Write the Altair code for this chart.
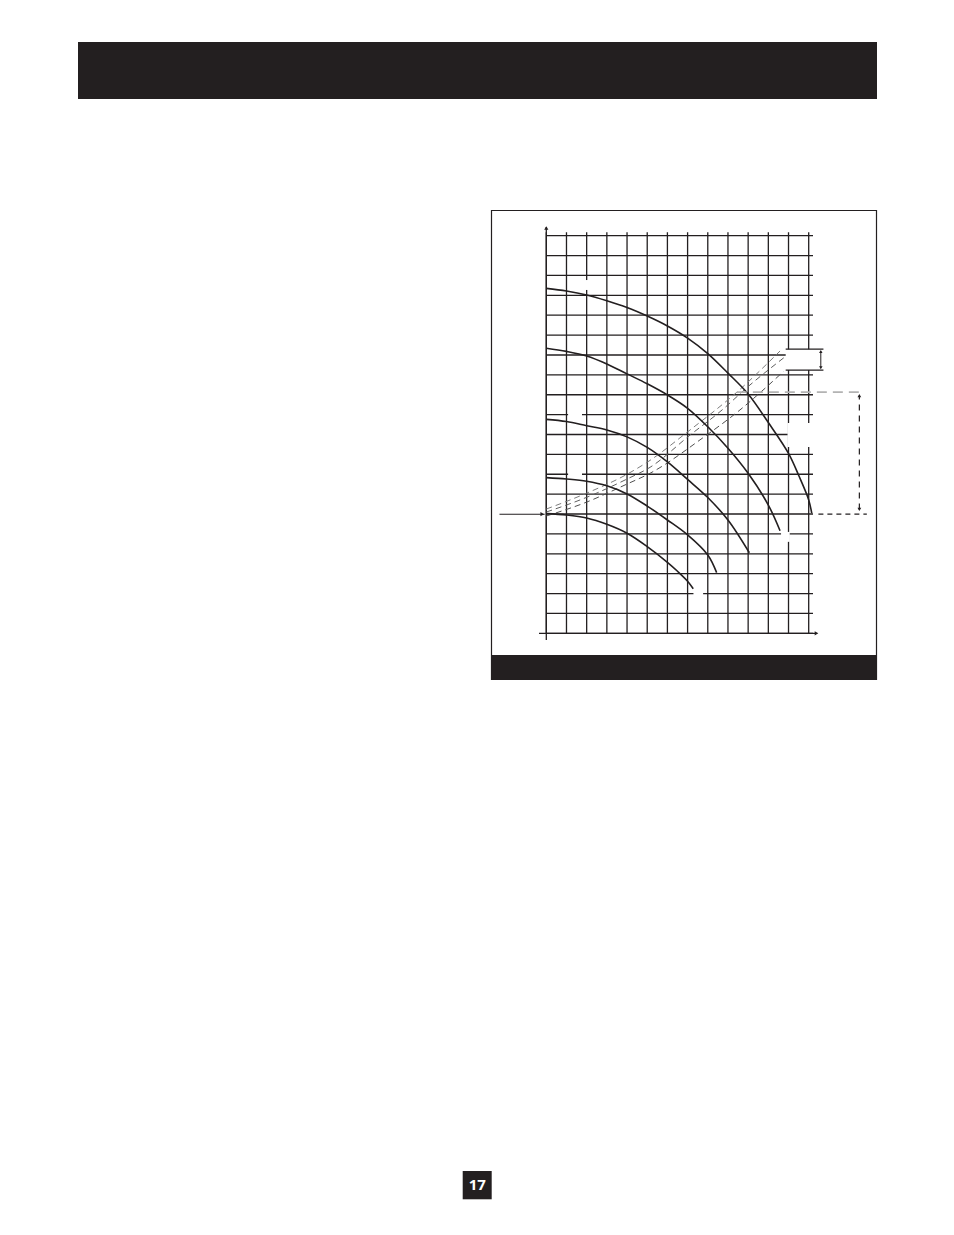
import altair as alt
import pandas as pd

INK = "#231f20"

# ---------------- data ----------------
flow_ticks = list(range(0, 14))      # vertical grid lines
head_ticks = list(range(0, 21))      # horizontal grid lines

pump_flow_1 = [0, 1, 2, 3, 4, 5, 6, 7, 8, 9, 10, 11, 12, 12.5, 13.0, 13.15]
pump_head_1 = [17.35, 17.22, 17.02, 16.73, 16.39, 15.96, 15.46, 14.85, 14.07, 13.09, 12.04, 10.6, 9.05, 7.95, 6.71, 6.04]

pump_flow_2 = [0, 1, 2, 3, 4, 5, 6, 7, 8, 9, 10, 11, 11.58]
pump_head_2 = [14.34, 14.18, 13.95, 13.55, 13.05, 12.55, 11.99, 11.32, 10.39, 9.31, 8.05, 6.45, 5.16]

pump_flow_3 = [0, 1, 2, 3, 4, 5, 6, 7, 8, 9, 10.06]
pump_head_3 = [10.76, 10.65, 10.44, 10.23, 9.88, 9.35, 8.62, 7.74, 6.83, 5.70, 4.05]

pump_flow_4 = [0, 1, 2, 3, 4, 5, 6, 7, 8, 8.44]
pump_head_4 = [7.83, 7.76, 7.65, 7.42, 7.01, 6.40, 5.70, 4.95, 3.94, 3.05]

pump_flow_5 = [0, 1, 2, 3, 4, 5, 6, 6.5, 7, 7.28]
pump_head_5 = [6.02, 5.95, 5.80, 5.48, 5.03, 4.36, 3.57, 3.12, 2.62, 2.24]

sys_flow_a = [0, 2, 4, 5.14, 6.96, 9.43, 11.58]
sys_head_a = [6.25, 7.05, 8.0, 8.7, 10.1, 12.12, 14.2]
sys_flow_b = [0, 2, 3.98, 5.14, 7.12, 8.61, 10.09, 11.83]
sys_head_b = [6.10, 6.84, 7.75, 8.35, 9.97, 11.15, 12.49, 13.91]
sys_flow_c = [0, 2, 3.98, 5.14, 7.78, 9.43, 11.74]
sys_head_c = [5.90, 6.60, 7.50, 8.05, 9.85, 11.10, 13.16]

static_head = 5.99          # level marked by the left arrow / black dashes
duty_head = 12.13           # grey dashed level
duty_flow_range = [9.44, 15.68]
static_flow_range = [13.48, 15.88]
dim_flow = 15.51
dim_heads = [6.13, 12.06]
tol_heads = [13.24, 14.29]
tol_flow_range = [11.86, 13.73]
tol_flow = 13.6
left_arrow_range = [-2.32, -0.08]

# places where the grid is broken (spots of removed labels)
gap_x1 = [1.82, 1.08, 1.08, 11.63, 7.29, 11.95, 11.86]
gap_x2 = [2.17, 1.77, 1.77, 12.06, 7.77, 13.35, 13.35]
gap_y1 = [17.27, 10.88, 7.87, 4.60, 1.88, 9.37, 13.24]
gap_y2 = [17.77, 11.16, 8.13, 5.10, 2.14, 10.58, 14.29]

# ---------------- layout ----------------
X0, Y0 = 546.3, 235.7          # page position of the plot area's top-left
W, H = 262.4, 397.6            # 13 x 20 grid cells


def px(v):
    return alt.value(v - X0)


def py(v):
    return alt.value(v - Y0)


one = pd.DataFrame({"k": [0]})
xs = alt.Scale(domain=[0, 13], nice=False, zero=False)
ys = alt.Scale(domain=[0, 20], nice=False, zero=False)


def page_rect(x1, x2, y1, y2, **kw):
    return alt.Chart(one).mark_rect(**kw).encode(x=px(x1), x2=px(x2), y=py(y1), y2=py(y2))


header = page_rect(78, 877, 42, 99, color=INK)
frame = page_rect(491.5, 876.5, 210.5, 679.5, fill="white", stroke=INK, strokeWidth=1.2)
footer = page_rect(491, 877, 655, 680, color=INK)
pagebox = page_rect(462.7, 491.7, 1171, 1199.3, color=INK)
pagenum = alt.Chart(one).mark_text(
    text="17", color="white", font="Open Sans", fontWeight="bold", fontSize=15,
    align="center", baseline="alphabetic"
).encode(x=px(477.3), y=py(1189.5))

grid_v = alt.Chart(pd.DataFrame({"flow": flow_ticks})).mark_rule(
    color=INK, strokeWidth=1.3
).encode(x=alt.X("flow:Q", scale=xs, axis=None), y=py(232.3), y2=py(633.3))

grid_h = alt.Chart(pd.DataFrame({"head": head_ticks})).mark_rule(
    color=INK, strokeWidth=1.3
).encode(y=alt.Y("head:Q", scale=ys, axis=None), x=px(546.3), x2=px(813))

gaps = alt.Chart(pd.DataFrame({"x1": gap_x1, "x2": gap_x2, "y1": gap_y1, "y2": gap_y2})).mark_rect(
    color="white"
).encode(
    x=alt.X("x1:Q", scale=xs, axis=None), x2="x2:Q",
    y=alt.Y("y1:Q", scale=ys, axis=None), y2="y2:Q",
)

y_axis = alt.Chart(one).mark_rule(color=INK, strokeWidth=1.3).encode(
    x=px(546.3), y=py(227), y2=py(640))
x_axis = alt.Chart(one).mark_rule(color=INK, strokeWidth=1.3).encode(
    y=py(633.3), x=px(539), x2=px(816))
y_head = alt.Chart(one).mark_point(shape="triangle-up", filled=True, color=INK, size=18, opacity=1).encode(
    x=px(546.3), y=py(228))
x_head = alt.Chart(one).mark_point(shape="triangle-right", filled=True, color=INK, size=18, opacity=1).encode(
    x=px(816.5), y=py(633.3))

# pump curves
rows = []
for cid, (fl, hd) in enumerate([(pump_flow_1, pump_head_1), (pump_flow_2, pump_head_2),
                                (pump_flow_3, pump_head_3), (pump_flow_4, pump_head_4),
                                (pump_flow_5, pump_head_5)]):
    for i, (f, h) in enumerate(zip(fl, hd)):
        rows.append({"curve": f"p{cid}", "i": i, "flow": f, "head": h})
pumps = alt.Chart(pd.DataFrame(rows)).mark_line(
    color=INK, strokeWidth=1.6, interpolate="catmull-rom"
).encode(
    x=alt.X("flow:Q", scale=xs, axis=None),
    y=alt.Y("head:Q", scale=ys, axis=None),
    detail="curve:N", order="i:Q",
)


def sys_line(fl, hd, colour):
    df = pd.DataFrame({"flow": fl, "head": hd, "i": list(range(len(fl)))})
    return alt.Chart(df).mark_line(
        color=colour, strokeWidth=1.0, strokeDash=[6, 4], interpolate="monotone"
    ).encode(
        x=alt.X("flow:Q", scale=xs, axis=None),
        y=alt.Y("head:Q", scale=ys, axis=None),
        order="i:Q",
    )


sys_a = sys_line(sys_flow_a, sys_head_a, "#7c7c7c")
sys_b = sys_line(sys_flow_b, sys_head_b, "#5f5f5f")
sys_c = sys_line(sys_flow_c, sys_head_c, "#4f4f4f")


def hrule(x1, x2, y, **kw):
    df = pd.DataFrame({"x1": [x1], "x2": [x2], "y": [y]})
    return alt.Chart(df).mark_rule(**kw).encode(
        x=alt.X("x1:Q", scale=xs, axis=None), x2="x2:Q",
        y=alt.Y("y:Q", scale=ys, axis=None))


def vrule(x, y1, y2, **kw):
    df = pd.DataFrame({"x": [x], "y1": [y1], "y2": [y2]})
    return alt.Chart(df).mark_rule(**kw).encode(
        x=alt.X("x:Q", scale=xs, axis=None),
        y=alt.Y("y1:Q", scale=ys, axis=None), y2="y2:Q")


def head_pt(x, y, shape, size=16):
    df = pd.DataFrame({"x": [x], "y": [y]})
    return alt.Chart(df).mark_point(shape=shape, filled=True, color=INK, size=size, opacity=1).encode(
        x=alt.X("x:Q", scale=xs, axis=None), y=alt.Y("y:Q", scale=ys, axis=None))


duty_line = hrule(duty_flow_range[0], duty_flow_range[1], duty_head,
                  color="#b3b3b3", strokeWidth=1.7, strokeDash=[10, 6])
static_line = hrule(static_flow_range[0], static_flow_range[1], static_head,
                    color=INK, strokeWidth=1.2, strokeDash=[5, 4])
left_arrow = hrule(left_arrow_range[0], left_arrow_range[1], static_head, color=INK, strokeWidth=1.1)
left_tip = head_pt(-0.2, static_head, "triangle-right", 18)

dim_line = vrule(dim_flow, dim_heads[0] + 0.1, dim_heads[1] - 0.1,
                 color=INK, strokeWidth=1.2, strokeDash=[6, 5])
dim_top = head_pt(dim_flow, dim_heads[1] - 0.1, "triangle-up", 14)
dim_bot = head_pt(dim_flow, dim_heads[0] + 0.1, "triangle-down", 14)

tol_top = hrule(tol_flow_range[0], tol_flow_range[1], tol_heads[1], color=INK, strokeWidth=1.3)
tol_bot = hrule(tol_flow_range[0], tol_flow_range[1], tol_heads[0], color=INK, strokeWidth=1.3)
tol_line = vrule(tol_flow, tol_heads[0] + 0.1, tol_heads[1] - 0.1, color=INK, strokeWidth=1.0)
tol_up = head_pt(tol_flow, tol_heads[1] - 0.12, "triangle-up", 12)
tol_dn = head_pt(tol_flow, tol_heads[0] + 0.12, "triangle-down", 12)

chart = alt.layer(
    header, frame, footer, pagebox, pagenum,
    grid_v, grid_h, gaps,
    y_axis, x_axis, y_head, x_head,
    sys_a, sys_b, sys_c,
    pumps,
    duty_line, static_line, left_arrow, left_tip,
    dim_line, dim_top, dim_bot,
    tol_top, tol_bot, tol_line, tol_up, tol_dn,
).properties(
    width=W, height=H,
    autosize=alt.AutoSizeParams(type="none"),
    padding={"left": X0 - 8, "top": Y0 - 8, "right": 900 - (X0 - 8) - W, "bottom": 1200 - (Y0 - 8) - H},
    background="white",
).configure_view(strokeWidth=0)

chart.save("out.html", embed_options={"renderer": "svg", "actions": False})
